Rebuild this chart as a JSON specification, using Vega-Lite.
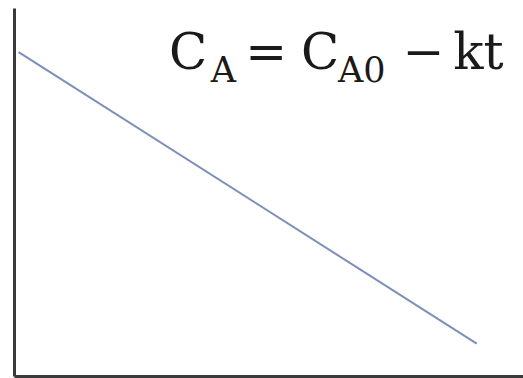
{
  "$schema": "https://vega.github.io/schema/vega-lite/v6.json",
  "width": 509,
  "height": 368,
  "autosize": {"type": "none"},
  "padding": {"left": 14, "top": 8, "right": 0, "bottom": 2},
  "background": "white",
  "config": {
    "view": {"stroke": null},
    "axis": {"ticks": false, "labels": false, "grid": false, "domainColor": "#3a3a3a", "domainWidth": 3}
  },
  "datasets": {
    "line": [{"t": 0.1, "C": 8.8}, {"t": 10, "C": 0.88}],
    "big": [
      {"label": "C", "t": 3.35, "C": 8.34},
      {"label": "=", "t": 5.0, "C": 8.34},
      {"label": "C", "t": 6.2, "C": 8.34},
      {"label": "−", "t": 8.4, "C": 8.34},
      {"label": "kt", "t": 9.49, "C": 8.34}
    ],
    "sub": [
      {"label": "A", "t": 4.25, "C": 7.98},
      {"label": "A0", "t": 7.0, "C": 7.98}
    ]
  },
  "layer": [
    {
      "data": {"name": "line"},
      "mark": {"type": "line", "color": "#7d8fb8", "strokeWidth": 2},
      "encoding": {
        "x": {"field": "t", "type": "quantitative", "scale": {"domain": [0, 11], "nice": false, "zero": false}, "title": null},
        "y": {"field": "C", "type": "quantitative", "scale": {"domain": [0, 10], "nice": false, "zero": false}, "title": null}
      }
    },
    {
      "data": {"name": "big"},
      "mark": {"type": "text", "font": "DejaVu Serif", "fontSize": 50, "align": "left", "baseline": "alphabetic", "color": "#1a1a1a"},
      "encoding": {
        "x": {"field": "t", "type": "quantitative", "title": null},
        "y": {"field": "C", "type": "quantitative", "title": null},
        "text": {"field": "label"}
      }
    },
    {
      "data": {"name": "sub"},
      "mark": {"type": "text", "font": "DejaVu Serif", "fontSize": 35, "align": "left", "baseline": "alphabetic", "color": "#1a1a1a"},
      "encoding": {
        "x": {"field": "t", "type": "quantitative", "title": null},
        "y": {"field": "C", "type": "quantitative", "title": null},
        "text": {"field": "label"}
      }
    }
  ]
}
